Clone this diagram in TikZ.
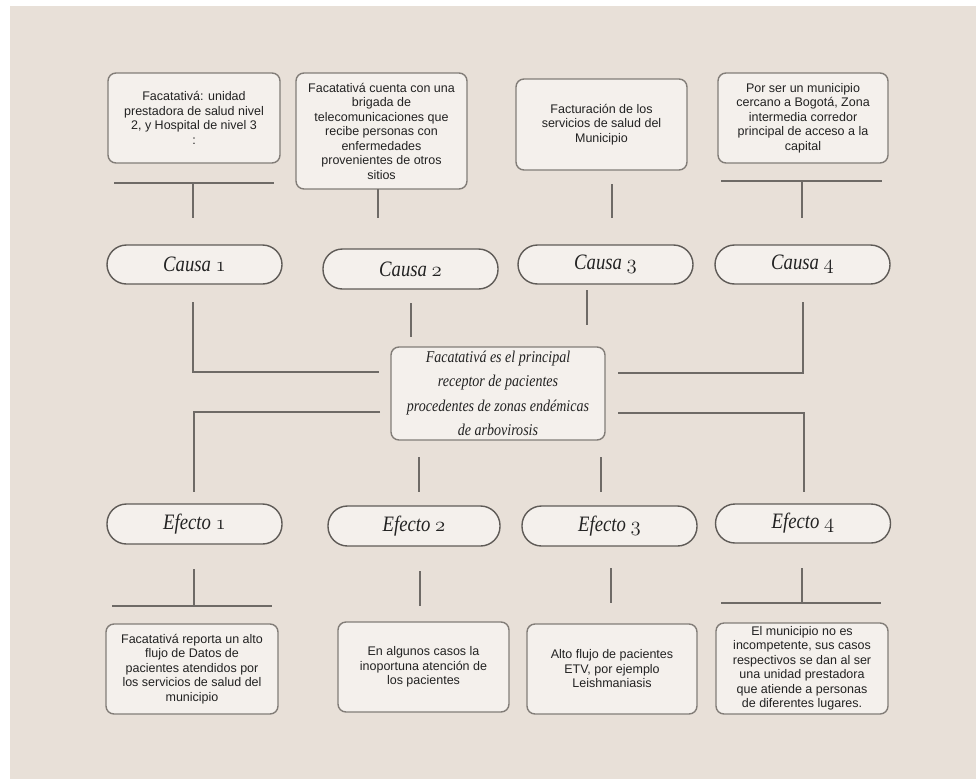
\documentclass[tikz,border=0pt]{standalone}
\usepackage{fontspec}
\setsansfont{Liberation Sans}
\newfontfamily\cormo{Liberation Serif}[FakeStretch=0.85]
\newcommand\osn[1]{{\usefont{OML}{cmm}{m}{it}#1}}
\definecolor{bg}{HTML}{E8E0D8}
\definecolor{boxfill}{HTML}{F4F0EC}
\definecolor{boxline}{HTML}{827D78}
\definecolor{pillline}{HTML}{5F5B57}
\definecolor{lncol}{HTML}{6E6A66}
\definecolor{txt}{HTML}{222222}
\tikzset{
 box/.style={draw=boxline, fill=boxfill, line width=1.4pt, rounded corners=8pt, inner sep=0pt, align=center, font=\sffamily\fontsize{12.5}{14.5}\selectfont, text=txt},
 pill/.style={draw=pillline, fill=boxfill, line width=1.4pt, rounded corners=19.5pt, minimum width=175pt, minimum height=39pt, inner sep=0pt, font=\cormo\itshape\fontsize{22}{24}\selectfont, text=txt},
 link/.style={draw=lncol, line width=1.3pt},
}
\begin{document}
\begin{tikzpicture}[x=1pt,y=-1pt]
\fill[white] (0,0) rectangle (976,779);
\fill[bg] (10,6) rectangle (976,779);
\useasboundingbox (0,0) rectangle (976,779);

% top boxes
\node[box, minimum width=172pt, minimum height=90pt] (b1) at (194,118) {Facatativá: unidad\\prestadora de salud nivel\\2, y Hospital de nivel 3\\:};
\node[box, minimum width=171pt, minimum height=116pt] (b2) at (381.5,131) {Facatativá cuenta con una\\brigada de\\telecomunicaciones que\\recibe personas con\\enfermedades\\provenientes de otros\\sitios};
\node[box, minimum width=171pt, minimum height=91pt] (b3) at (601.5,124.5) {Facturación de los\\servicios de salud del\\Municipio};
\node[box, minimum width=170pt, minimum height=90pt] (b4) at (803,118) {Por ser un municipio\\cercano a Bogotá, Zona\\intermedia corredor\\principal de acceso a la\\capital};

% causa pills
\node[pill] (c1) at (194.5,264.5) {Causa \osn{1}};
\node[pill, minimum height=40pt] (c2) at (410.5,269) {Causa \osn{2}};
\node[pill] (c3) at (605.5,264.5) {Causa \osn{3}};
\node[pill] (c4) at (802.5,264.5) {Causa \osn{4}};

% centre
\node[box, minimum width=214pt, minimum height=93pt, font=\cormo\itshape\fontsize{16.5}{24.5}\selectfont] (m) at (498,393.5) {Facatativá es el principal\\receptor de pacientes\\procedentes de zonas endémicas\\de arbovirosis};

% efecto pills
\node[pill, minimum height=40pt] (e1) at (194.5,524) {Efecto \osn{1}};
\node[pill, minimum height=40pt, minimum width=172pt] (e2) at (414,526) {Efecto \osn{2}};
\node[pill, minimum height=40pt] (e3) at (609.5,526) {Efecto \osn{3}};
\node[pill] (e4) at (803,523.5) {Efecto \osn{4}};

% bottom boxes
\node[box, minimum width=172pt, minimum height=90pt] (d1) at (192,669) {Facatativá reporta un alto\\flujo de Datos de\\pacientes atendidos por\\los servicios de salud del\\municipio};
\node[box, minimum width=171pt, minimum height=90pt] (d2) at (423.5,667) {En algunos casos la\\inoportuna atención de\\los pacientes};
\node[box, minimum width=170pt, minimum height=90pt] (d3) at (612,669) {Alto flujo de pacientes\\ETV, por ejemplo\\Leishmaniasis};
\node[box, minimum width=172pt, minimum height=91pt] (d4) at (802,668.5) {El municipio no es\\incompetente, sus casos\\respectivos se dan al ser\\una unidad prestadora\\que atiende a personas\\de diferentes lugares.};

% connector points
\coordinate (h1a) at (114,183); \coordinate (h1b) at (274,183);
\coordinate (v1a) at (193,183); \coordinate (v1b) at (193,218);
\coordinate (v2a) at (378,189); \coordinate (v2b) at (378,218);
\coordinate (v3a) at (612,184); \coordinate (v3b) at (612,218);
\coordinate (h4a) at (721,181); \coordinate (h4b) at (882,181);
\coordinate (v4a) at (802,181); \coordinate (v4b) at (802,218);

\coordinate (k1a) at (193,302); \coordinate (k1b) at (193,372); \coordinate (k1c) at (379,372);
\coordinate (k2a) at (411,303); \coordinate (k2b) at (411,337);
\coordinate (k3a) at (587,290); \coordinate (k3b) at (587,325);
\coordinate (k4a) at (803,302); \coordinate (k4b) at (803,373); \coordinate (k4c) at (618,373);

\coordinate (l1a) at (380,412); \coordinate (l1b) at (194,412); \coordinate (l1c) at (194,492);
\coordinate (l2a) at (419,457); \coordinate (l2b) at (419,492);
\coordinate (l3a) at (601,457); \coordinate (l3b) at (601,492);
\coordinate (l4a) at (618,413); \coordinate (l4b) at (804,413); \coordinate (l4c) at (804,492);

\coordinate (f1a) at (194,569); \coordinate (f1b) at (194,606);
\coordinate (g1a) at (112,606); \coordinate (g1b) at (272,606);
\coordinate (f2a) at (420,571); \coordinate (f2b) at (420,606);
\coordinate (f3a) at (611,568); \coordinate (f3b) at (611,603);
\coordinate (f4a) at (802,568); \coordinate (f4b) at (802,603);
\coordinate (g4a) at (721,603); \coordinate (g4b) at (881,603);

\draw[link] (h1a) -- (h1b);
\draw[link] (v1a) -- (v1b);
\draw[link] (v2a) -- (v2b);
\draw[link] (v3a) -- (v3b);
\draw[link] (h4a) -- (h4b);
\draw[link] (v4a) -- (v4b);
\draw[link] (k1a) -- (k1b) -- (k1c);
\draw[link] (k2a) -- (k2b);
\draw[link] (k3a) -- (k3b);
\draw[link] (k4a) -- (k4b) -- (k4c);
\draw[link] (l1a) -- (l1b) -- (l1c);
\draw[link] (l2a) -- (l2b);
\draw[link] (l3a) -- (l3b);
\draw[link] (l4a) -- (l4b) -- (l4c);
\draw[link] (f1a) -- (f1b);
\draw[link] (g1a) -- (g1b);
\draw[link] (f2a) -- (f2b);
\draw[link] (f3a) -- (f3b);
\draw[link] (f4a) -- (f4b);
\draw[link] (g4a) -- (g4b);
\end{tikzpicture}
\end{document}
